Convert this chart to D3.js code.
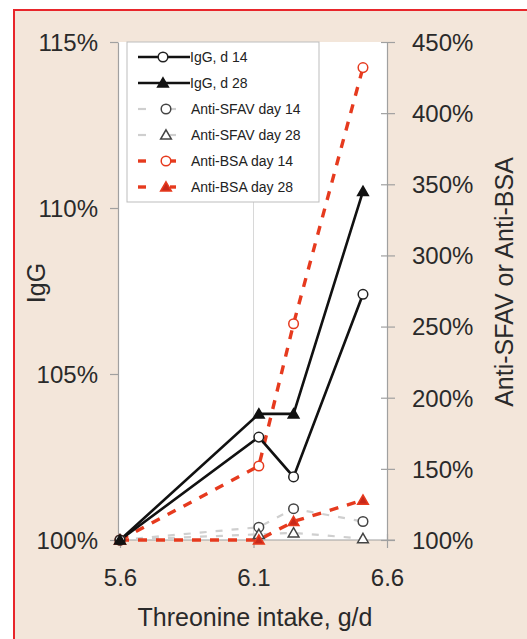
<!DOCTYPE html>
<html><head><meta charset="utf-8">
<script src="https://cdn.jsdelivr.net/npm/d3@7"></script>
<style>body{margin:0;background:#fff;}svg{display:block;}</style>
</head><body>
<svg id="c" width="527" height="639"></svg>
<script>
const intake = [5.6, 6.12, 6.25, 6.51];
const iggD14 = [100, 103.1, 101.9, 107.4];
const iggD28 = [100, 103.8, 103.8, 110.5];
const sfavD14 = [100, 109, 122, 113];
const sfavD28 = [100, 104, 105, 101];
const bsaD14 = [100, 152, 252, 432];
const bsaD28 = [100, 100, 113, 128];
const xTicks = [5.6, 6.1, 6.6];
const leftTicks = [100, 105, 110, 115];
const rightTicks = [100, 150, 200, 250, 300, 350, 400, 450];

const svg = d3.select("#c");
svg.append("rect").attr("x",0).attr("y",0).attr("width",527).attr("height",639).attr("fill","#fff");
svg.append("rect").attr("x",14).attr("y",10).attr("width",530).attr("height",650)
  .attr("fill","#f3e6da").attr("stroke","#e8262b").attr("stroke-width",2);

const L=118,R=387,T=42,B=540;
const x = d3.scaleLinear().domain([5.6,6.6]).range([L+2,R]);
const yL = d3.scaleLinear().domain([100,115]).range([B,T]);
const yR = d3.scaleLinear().domain([100,450]).range([B,T]);

svg.append("rect").attr("x",L).attr("y",T).attr("width",R-L).attr("height",B-T).attr("fill","#fff");
svg.append("line").attr("x1",x(6.1)).attr("x2",x(6.1)).attr("y1",T).attr("y2",B).attr("stroke","#d8d8d8").attr("stroke-width",1);

const font = "Liberation Sans, Arial, sans-serif";
const gx = svg.append("g").attr("transform",`translate(0,${B})`)
  .call(d3.axisBottom(x).tickValues(xTicks).tickFormat(d3.format(".1f")).tickSize(8).tickSizeOuter(0));
gx.selectAll(".tick line").attr("y1",-6);
const gl = svg.append("g").attr("transform",`translate(${L},0)`)
  .call(d3.axisLeft(yL).tickValues(leftTicks).tickFormat(d=>d+"%").tickSize(8).tickSizeOuter(0));
const gr = svg.append("g").attr("transform",`translate(${R},0)`)
  .call(d3.axisRight(yR).tickValues(rightTicks).tickFormat(d=>d+"%").tickSize(8).tickSizeOuter(0));
gr.selectAll(".tick line").attr("x1",-6);
[gx,gl,gr].forEach(g=>{
  g.select(".domain").attr("stroke","#a0a0a0").attr("stroke-width",1.2);
  g.selectAll(".tick line").attr("stroke","#a0a0a0").attr("stroke-width",1.2);
  g.selectAll("text").attr("font-family",font).attr("font-size",24).attr("fill","#2a2a2a");
});
gx.select(".domain").attr("d",`M${L},0H${R+8}`);
gx.selectAll("text").attr("y",0).attr("dy",0).attr("transform","translate(0,46)");
gl.selectAll("text").attr("x",-20).attr("dy","0.35em");
gr.selectAll("text").attr("x",25).attr("dy","0.35em");

svg.append("text").attr("x",255).attr("y",626).attr("text-anchor","middle")
  .attr("font-family",font).attr("font-size",25).attr("fill","#2a2a2a").text("Threonine intake, g/d");
svg.append("text").attr("transform","translate(45,283) rotate(-90)").attr("text-anchor","middle")
  .attr("font-family",font).attr("font-size",25).attr("fill","#2a2a2a").text("IgG");
svg.append("text").attr("transform","translate(513,282) rotate(-90)").attr("text-anchor","middle")
  .attr("font-family",font).attr("font-size",25).attr("fill","#2a2a2a").text("Anti-SFAV or Anti-BSA");

const series = [
  {name:"IgG, d 14", vals:iggD14, y:yL, color:"#111", w:2.6, dash:null, marker:"circle", fill:"#fff", mstroke:"#222"},
  {name:"IgG, d 28", vals:iggD28, y:yL, color:"#111", w:2.6, dash:null, marker:"triangle", fill:"#111", mstroke:"#111"},
  {name:"Anti-SFAV day 14", vals:sfavD14, y:yR, color:"#cfcfcf", w:2.2, dash:"7,9", marker:"circle", fill:"#fff", mstroke:"#444"},
  {name:"Anti-SFAV day 28", vals:sfavD28, y:yR, color:"#cfcfcf", w:2.2, dash:"7,9", marker:"triangle", fill:"#fff", mstroke:"#444"},
  {name:"Anti-BSA day 14", vals:bsaD14, y:yR, color:"#e63a1e", w:3.4, dash:"9,9", marker:"circle", fill:"#fff", mstroke:"#e63a1e"},
  {name:"Anti-BSA day 28", vals:bsaD28, y:yR, color:"#e63a1e", w:3.4, dash:"9,9", marker:"triangle", fill:"#c8281a", mstroke:"#e63a1e"},
];
const plot = svg.append("g");
function drawMarker(g, s, cx, cy){
  if(s.marker==="circle"){
    g.append("circle").attr("cx",cx).attr("cy",cy).attr("r",4.8).attr("fill",s.fill).attr("stroke",s.mstroke).attr("stroke-width",1.5);
  } else {
    g.append("path").attr("d",d3.symbol(d3.symbolTriangle,50)()).attr("transform",`translate(${cx},${cy+1})`)
      .attr("fill",s.fill).attr("stroke",s.mstroke).attr("stroke-width",1.5);
  }
}
const order=[2,3,4,5,0,1];
order.forEach(i=>{
  const s=series[i];
  const line=d3.line().x((d,j)=>x(intake[j])).y(d=>s.y(d));
  const p=plot.append("path").datum(s.vals).attr("d",line).attr("fill","none")
    .attr("stroke",s.color).attr("stroke-width",s.w);
  if(s.dash) p.attr("stroke-dasharray",s.dash);
});
order.forEach(i=>{
  const s=series[i];
  s.vals.forEach((v,j)=>drawMarker(plot,s,x(intake[j]),s.y(v)));
});

const lg = svg.append("g");
lg.append("rect").attr("x",127).attr("y",42).attr("width",192).attr("height",160).attr("fill","#fff").attr("stroke","#bdbdbd").attr("stroke-width",1);
series.forEach((s,i)=>{
  const yy=57+i*26;
  if(s.dash){
    lg.append("line").attr("x1",138).attr("x2",146).attr("y1",yy).attr("y2",yy).attr("stroke",s.color).attr("stroke-width",s.w);
    lg.append("line").attr("x1",170).attr("x2",176).attr("y1",yy).attr("y2",yy).attr("stroke",s.color).attr("stroke-width",s.w);
    drawMarker(lg,s,166,yy);
  } else {
    lg.append("line").attr("x1",138).attr("x2",190).attr("y1",yy).attr("y2",yy).attr("stroke",s.color).attr("stroke-width",s.w);
    drawMarker(lg,s,163,yy);
  }
  lg.append("text").attr("x",s.dash?191:190).attr("y",yy).attr("dy","0.35em")
    .attr("font-family",font).attr("font-size",14).attr("fill","#222").text(s.name);
});
</script>
</body></html>
